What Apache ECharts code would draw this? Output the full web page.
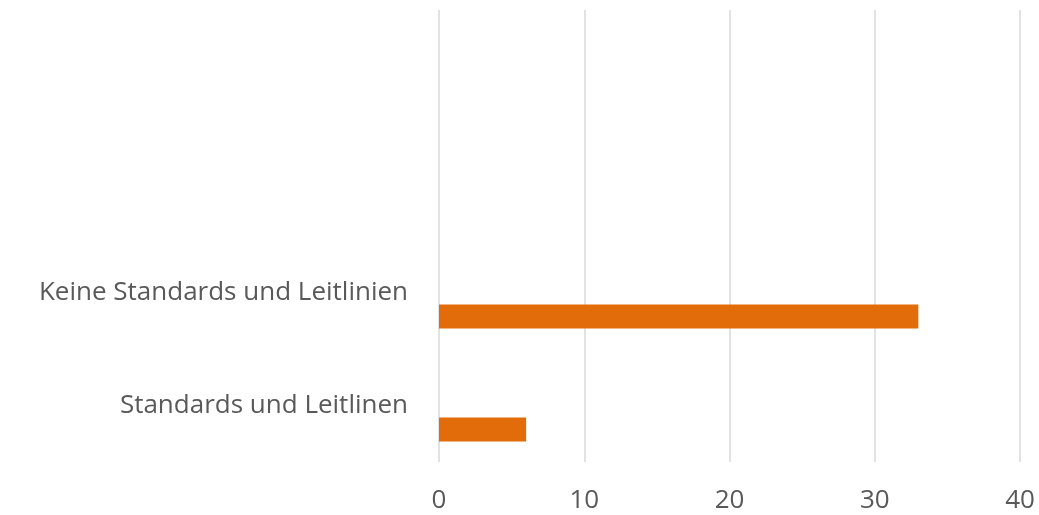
<!DOCTYPE html>
<html>
<head>
<meta charset="utf-8">
<script src="https://cdn.jsdelivr.net/npm/echarts@6/dist/echarts.min.js"></script>
<style>html,body{margin:0;padding:0;background:#fff}#c{width:1039px;height:515px}</style>
</head>
<body>
<div id="c"></div>
<script>
const categories = ["Standards und Leitlinen", "Keine Standards und Leitlinien", "", " "];
const values = [6, 33, null, null];
const emptyA = [null, null, null, null];
const emptyB = [null, null, null, null];
const xTicks = [0, 10, 20, 30, 40];

const chart = echarts.init(document.getElementById('c'), null, {renderer: 'canvas'});
const font = '"Open Sans", "Noto Sans", sans-serif';
chart.setOption({
  animation: false,
  grid: {left: 439, right: 19, top: 10, bottom: 53, containLabel: false},
  xAxis: {
    type: 'value', min: xTicks[0], max: xTicks[xTicks.length - 1], interval: 10,
    axisLine: {show: false}, axisTick: {show: false},
    splitLine: {lineStyle: {color: '#d9d9d9', width: 1.5}},
    axisLabel: {color: '#595959', fontSize: 26, fontFamily: font, margin: 26}
  },
  yAxis: {
    type: 'category', data: categories,
    axisLine: {show: false}, axisTick: {show: false},
    axisLabel: {color: '#595959', fontSize: 26, fontFamily: font, margin: 31}
  },
  series: [
    {type: 'bar', data: emptyA, barWidth: 24, barGap: '0%'},
    {type: 'bar', data: emptyB, barWidth: 24, barGap: '0%'},
    {type: 'bar', data: values, barWidth: 24, barGap: '0%', itemStyle: {color: '#e36c0a'}}
  ]
});
</script>
</body>
</html>
